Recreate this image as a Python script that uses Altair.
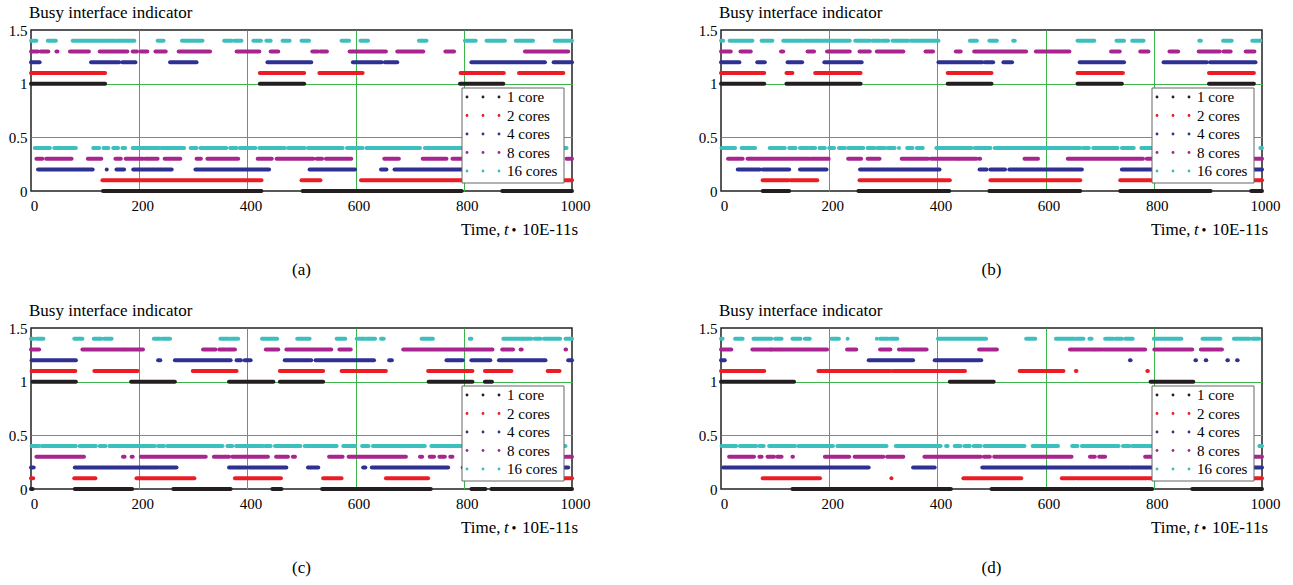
import altair as alt
import pandas as pd

SERIES = ["1 core", "2 cores", "4 cores", "8 cores", "16 cores"]
COLORS = ["#231f20", "#ed1c24", "#2e3192", "#a8248f", "#3dbfbd"]
BUSY_LEVEL = [1.0, 1.1, 1.2, 1.3, 1.4]
IDLE_LEVEL = [0.0, 0.1, 0.2, 0.3, 0.4]
X_TICKS = [0, 200, 400, 600, 800, 1000]
Y_TICKS = [0, 0.5, 1, 1.5]
PANEL_LABELS = ["(a)", "(b)", "(c)", "(d)"]
TITLE = "Busy interface indicator"

# ---- panel (a): busy / idle time intervals per series ----
A1_BUSY = [(0, 137), (423, 505), (793, 873)]
A1_IDLE = [(133, 426), (502, 796), (871, 1000)]
A2_BUSY = [(0, 137), (423, 505), (533, 613), (794, 874), (902, 984)]
A2_IDLE = [(132, 426), (500, 535), (610, 796), (874, 902), (984, 1000)]
A4_BUSY = [(0, 16), (111, 163), (169, 193), (257, 306), (437, 518), (595, 648), (654, 677), (814, 950), (966, 1000)]
A4_IDLE = [(13, 114), (140, 140), (158, 172), (189, 260), (304, 440), (515, 599), (647, 657), (672, 814), (950, 966)]
A8_BUSY = [(0, 13), (18, 32), (47, 49), (72, 107), (127, 178), (188, 196), (203, 215), (230, 249), (273, 331),
           (380, 422), (443, 457), (520, 531), (535, 547), (589, 656), (677, 725), (766, 782), (913, 993)]
A8_IDLE = [(10, 21), (28, 75), (105, 130), (156, 166), (175, 207), (211, 234), (247, 276), (306, 314), (326, 383),
           (419, 445), (454, 522), (528, 538), (545, 592), (653, 680), (724, 768), (779, 913), (990, 1000)]
A16_BUSY = [(0, 10), (31, 46), (77, 120), (122, 155), (158, 191), (234, 245), (279, 317), (357, 371), (376, 389),
            (411, 425), (435, 443), (465, 478), (500, 514), (574, 588), (609, 623), (717, 731), (802, 822),
            (842, 876), (896, 928), (968, 1000)]
A16_IDLE = [(7, 35), (43, 83), (115, 126), (134, 143), (152, 161), (169, 174), (188, 237), (241, 283), (295, 306),
            (313, 361), (368, 380), (386, 415), (422, 469), (475, 506), (512, 576), (584, 613), (620, 719),
            (728, 802), (876, 896), (985, 990)]

# ---- panel (b) ----
B1_BUSY = [(0, 80), (121, 258), (419, 500), (659, 741), (902, 985)]
B1_IDLE = [(77, 126), (254, 422), (496, 664), (738, 905), (980, 1000)]
B2_BUSY = [(0, 80), (121, 132), (174, 258), (419, 500), (659, 743), (902, 985)]
B2_IDLE = [(77, 125), (129, 178), (256, 423), (498, 664), (738, 902), (986, 1000)]
B4_BUSY = [(0, 34), (67, 81), (123, 150), (191, 260), (402, 483), (488, 503), (522, 538), (663, 745), (818, 898),
           (904, 988)]
B4_IDLE = [(31, 72), (77, 126), (146, 195), (257, 404), (478, 491), (498, 525), (533, 667), (741, 818), (986, 1000)]
B8_BUSY = [(0, 18), (36, 55), (111, 115), (160, 172), (196, 238), (256, 275), (288, 337), (378, 392), (434, 443),
           (468, 564), (582, 644), (721, 737), (775, 790), (829, 845), (883, 922), (929, 942), (970, 986)]
B8_IDLE = [(13, 40), (49, 163), (166, 199), (235, 259), (271, 293), (334, 383), (388, 437), (439, 472), (477, 479),
           (561, 586), (641, 780), (787, 829), (845, 883), (922, 929), (942, 970), (986, 1000)]
B16_BUSY = [(0, 4), (16, 58), (75, 95), (115, 149), (153, 186), (189, 238), (248, 275), (280, 294), (298, 309),
            (317, 346), (351, 402), (460, 473), (496, 510), (540, 543), (659, 690), (731, 745), (760, 781),
            (884, 887), (928, 944), (982, 997)]
B16_IDLE = [(1, 26), (38, 63), (90, 118), (126, 138), (146, 160), (164, 174), (182, 192), (200, 209), (218, 229),
            (235, 263), (271, 284), (289, 303), (308, 321), (329, 329), (344, 354), (362, 373), (398, 463),
            (469, 498), (506, 664), (669, 680), (688, 733), (741, 763), (777, 880), (890, 928), (944, 980),
            (997, 1000)]

# ---- panel (c) ----
C1_BUSY = [(3, 83), (185, 266), (366, 448), (460, 540), (735, 816), (839, 852)]
C1_IDLE = [(0, 3), (81, 187), (263, 369), (446, 463), (538, 739), (814, 840), (851, 1000)]
C2_BUSY = [(1, 82), (117, 197), (299, 380), (460, 540), (574, 656), (734, 816), (839, 888), (955, 977)]
C2_IDLE = [(0, 4), (80, 119), (195, 302), (377, 462), (540, 574), (656, 734), (816, 839), (888, 955), (977, 1000)]
C4_BUSY = [(1, 83), (235, 239), (266, 369), (380, 388), (395, 406), (469, 518), (526, 634), (662, 667), (768, 798),
           (814, 849), (865, 951), (993, 1000)]
C4_IDLE = [(0, 5), (81, 235), (238, 269), (366, 383), (385, 398), (403, 472), (512, 531), (614, 618), (630, 771),
           (798, 814), (849, 865), (951, 993)]
C8_BUSY = [(0, 15), (95, 170), (172, 207), (318, 341), (348, 360), (363, 377), (434, 457), (472, 555), (570, 591),
           (688, 853), (871, 891), (905, 907), (988, 989)]
C8_IDLE = [(10, 98), (170, 173), (186, 188), (203, 323), (338, 352), (355, 366), (372, 438), (453, 475), (484, 488),
           (551, 576), (587, 693), (719, 723), (737, 745), (755, 765), (775, 779), (853, 871), (891, 904),
           (908, 987), (990, 1000)]
C16_BUSY = [(0, 5), (10, 23), (80, 95), (116, 130), (135, 149), (227, 239), (243, 257), (350, 366), (369, 383),
            (427, 438), (440, 455), (492, 515), (565, 581), (602, 617), (620, 636), (647, 652), (722, 743),
            (811, 814), (873, 909), (910, 925), (931, 942), (948, 962), (964, 978), (988, 1000)]
C16_IDLE = [(1, 15), (20, 83), (90, 120), (127, 138), (145, 229), (235, 246), (252, 354), (363, 372), (379, 429),
            (433, 443), (451, 498), (506, 565), (577, 599), (612, 624), (632, 685), (688, 728), (740, 808),
            (816, 873), (978, 988)]

# ---- panel (d) ----
D1_BUSY = [(0, 135), (423, 504), (794, 873)]
D1_IDLE = [(132, 425), (500, 797), (871, 1000)]
D2_BUSY = [(0, 80), (180, 313), (317, 451), (552, 633), (656, 657), (788, 789)]
D2_IDLE = [(77, 183), (315, 315), (448, 555), (630, 655), (658, 787), (790, 1000)]
D4_BUSY = [(0, 7), (273, 355), (395, 477), (480, 481), (756, 757), (877, 878), (896, 897), (936, 937), (954, 955)]
D4_IDLE = [(4, 273), (355, 395), (483, 755), (758, 876), (879, 895), (898, 935), (938, 953), (956, 1000)]
D8_BUSY = [(0, 19), (58, 92), (93, 109), (111, 196), (233, 250), (294, 313), (329, 330), (334, 380), (477, 510),
           (645, 689), (691, 704), (707, 784), (801, 871), (887, 910), (913, 926)]
D8_IDLE = [(15, 61), (71, 75), (86, 98), (104, 112), (132, 133), (192, 237), (247, 300), (307, 337), (376, 480),
           (486, 497), (505, 648), (682, 691), (699, 710), (784, 801), (871, 887), (926, 1000)]
D16_BUSY = [(0, 3), (26, 40), (60, 93), (100, 112), (132, 147), (155, 164), (204, 218), (234, 234), (288, 288),
            (294, 309), (313, 326), (401, 490), (564, 581), (619, 653), (656, 670), (681, 685), (710, 725),
            (729, 741), (747, 761), (800, 851), (890, 923), (948, 977), (982, 995)]
D16_IDLE = [(1, 28), (35, 65), (71, 79), (89, 137), (143, 207), (215, 306), (323, 406), (416, 419), (432, 443),
            (450, 460), (467, 480), (487, 561), (576, 623), (649, 659), (667, 735), (743, 755), (760, 800),
            (851, 890), (923, 948), (977, 982), (995, 1000)]

PANELS = [
    [(A1_BUSY, A1_IDLE), (A2_BUSY, A2_IDLE), (A4_BUSY, A4_IDLE), (A8_BUSY, A8_IDLE), (A16_BUSY, A16_IDLE)],
    [(B1_BUSY, B1_IDLE), (B2_BUSY, B2_IDLE), (B4_BUSY, B4_IDLE), (B8_BUSY, B8_IDLE), (B16_BUSY, B16_IDLE)],
    [(C1_BUSY, C1_IDLE), (C2_BUSY, C2_IDLE), (C4_BUSY, C4_IDLE), (C8_BUSY, C8_IDLE), (C16_BUSY, C16_IDLE)],
    [(D1_BUSY, D1_IDLE), (D2_BUSY, D2_IDLE), (D4_BUSY, D4_IDLE), (D8_BUSY, D8_IDLE), (D16_BUSY, D16_IDLE)],
]

# ---- style ----
W, H = 541, 161
FONT = "Liberation Serif"
GRID = "#3cb44b"


def edge_hidden(lo, hi):
    return {"condition": {"test": f"datum.value == {lo} || datum.value == {hi}", "value": 0}, "value": 1}


def make_panel(label, pairs):
    rows = []
    for name, lb, li, (busy, idle) in zip(SERIES, BUSY_LEVEL, IDLE_LEVEL, pairs):
        for s, e in busy:
            rows.append({"series": name, "start": s, "end": e, "level": lb})
        for s, e in idle:
            rows.append({"series": name, "start": s, "end": e, "level": li})
    df = pd.DataFrame(rows)
    color = alt.Color("series:N", scale=alt.Scale(domain=SERIES, range=COLORS), legend=None)

    data_layer = alt.Chart(df).mark_rule(strokeWidth=4, strokeCap="round").encode(
        x=alt.X("start:Q", scale=alt.Scale(domain=[0, 1000], nice=False, zero=False),
                axis=alt.Axis(values=X_TICKS, format="d", title=None, ticks=False, domain=False,
                              labelFont=FONT, labelFontSize=15, labelColor="black", labelPadding=7,
                              labelOffset=3, labelFlush=False, labelOverlap=False,
                              grid=True, gridColor=GRID, gridWidth=1, gridOpacity=edge_hidden(0, 1000))),
        x2="end:Q",
        y=alt.Y("level:Q", scale=alt.Scale(domain=[0, 1.5], nice=False),
                axis=alt.Axis(values=Y_TICKS, format="~g", title=None, ticks=False, domain=False,
                              labelFont=FONT, labelFontSize=15, labelColor="black", labelPadding=4,
                              labelFlush=False, labelOverlap=False,
                              grid=True, gridColor=GRID, gridWidth=1, gridOpacity=edge_hidden(0, 1.5))),
        color=color,
    )

    leg = pd.DataFrame({"series": SERIES})
    one = pd.DataFrame({"k": [0]})
    yleg = alt.Y("series:N", scale=alt.Scale(type="point", domain=SERIES, range=[67, 141], padding=0), axis=None)
    box = alt.Chart(one).mark_rect(fill="white", stroke="#666", strokeWidth=1).encode(
        x=alt.value(431), x2=alt.value(533), y=alt.value(58), y2=alt.value(153))
    dots = [alt.Chart(leg).mark_circle(size=8, opacity=1).encode(x=alt.value(dx), y=yleg, color=color)
            for dx in (436, 452, 468)]
    texts = alt.Chart(leg).mark_text(align="left", baseline="middle", font=FONT, fontSize=15, color="black").encode(
        x=alt.value(476), y=yleg, text="series:N")

    # panel title above the plot
    ttl = alt.Chart(one).mark_text(text=TITLE, font=FONT, fontSize=17, color="black", baseline="alphabetic",
                                   align="left").encode(x=alt.value(-2), y=alt.value(-12))

    # x axis title: "Time, t • 10E-11s"
    txt = dict(font=FONT, fontSize=17, color="black", baseline="alphabetic")
    xt1 = alt.Chart(one).mark_text(text="Time,", align="left", **txt).encode(x=alt.value(430), y=alt.value(H + 44))
    xt2 = alt.Chart(one).mark_text(text="t", fontStyle="italic", align="left", **txt).encode(
        x=alt.value(473), y=alt.value(H + 44))
    xt3 = alt.Chart(one).mark_text(text="•", font=FONT, fontSize=14, color="black", baseline="alphabetic",
                                   align="center").encode(x=alt.value(483), y=alt.value(H + 44))
    xt4 = alt.Chart(one).mark_text(text="10E-11s", align="right", **txt).encode(x=alt.value(547), y=alt.value(H + 44))
    lab = alt.Chart(one).mark_text(text=label, font=FONT, fontSize=17, color="black", baseline="middle",
                                   align="center").encode(x=alt.value(W / 2), y=alt.value(H + 79))

    return alt.layer(data_layer, box, *dots, texts, ttl, xt1, xt2, xt3, xt4, lab).resolve_scale(
        y="independent").properties(width=W, height=H)


panels = [make_panel(lbl, pairs) for lbl, pairs in zip(PANEL_LABELS, PANELS)]

chart = alt.concat(*panels, columns=2, spacing={"row": 137, "column": 149}, bounds="flush").properties(
    padding={"left": 7, "top": 3, "right": 5, "bottom": 5},
    background="white",
).configure_view(stroke="#222", strokeWidth=1.5)

chart.save("out.html", embed_options={"renderer": "svg", "actions": False})
